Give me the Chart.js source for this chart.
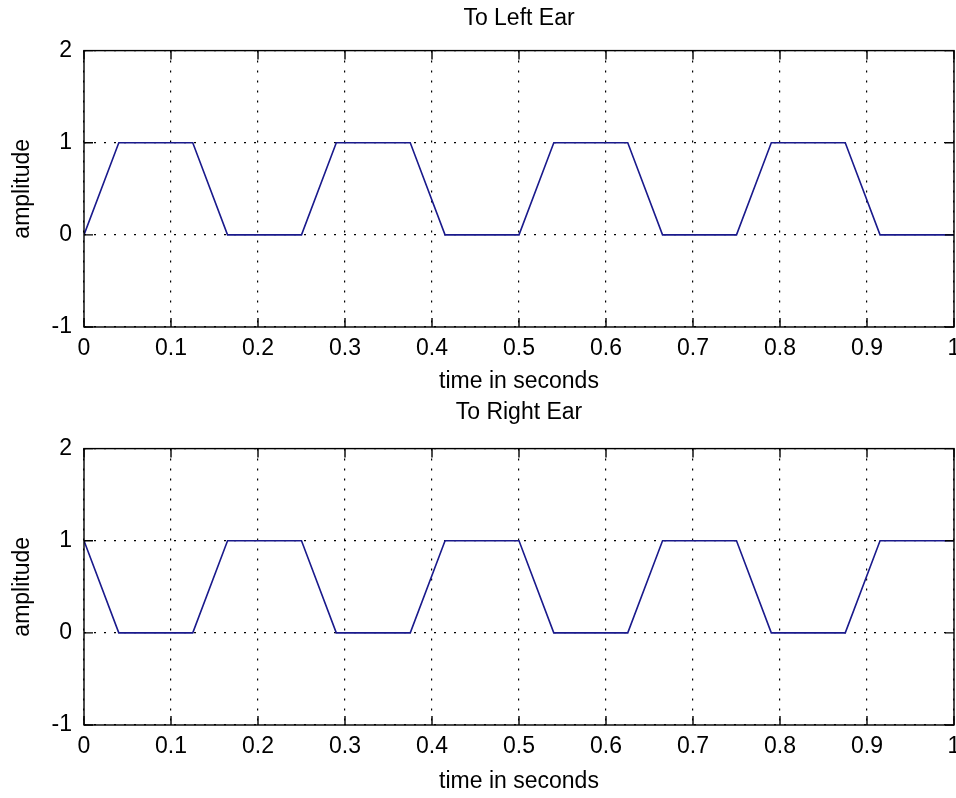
<!DOCTYPE html>
<html>
<head>
<meta charset="utf-8">
<script src="https://cdn.jsdelivr.net/npm/chart.js@4.4.1/dist/chart.umd.min.js"></script>
<style>
  html, body { margin: 0; padding: 0; background: #fff; }
  #wrap { position: relative; width: 956px; height: 798px; }
  canvas { position: absolute; left: 0; }
</style>
</head>
<body>
<div id="wrap">
  <canvas id="left" width="956" height="399" style="top:0"></canvas>
  <canvas id="right" width="956" height="399" style="top:399px"></canvas>
</div>
<script>
// time breakpoints of the trapezoid waves (seconds)
const times = [0, 0.04, 0.125, 0.165, 0.25, 0.29, 0.375, 0.415, 0.5, 0.54, 0.625, 0.665, 0.75, 0.79, 0.875, 0.915, 1];
const leftEar = [0, 1, 1, 0, 0, 1, 1, 0, 0, 1, 1, 0, 0, 1, 1, 0, 0];
const rightEar = [1, 0, 0, 1, 1, 0, 0, 1, 1, 0, 0, 1, 1, 0, 0, 1, 1];
const xTicks = [0, 0.1, 0.2, 0.3, 0.4, 0.5, 0.6, 0.7, 0.8, 0.9, 1];
const yTicks = [-1, 0, 1, 2];

Chart.defaults.font.family = "'Liberation Sans', Arial, sans-serif";
Chart.defaults.font.size = 23;
Chart.defaults.color = "#000";

// matlab style box with inward ticks
const boxPlugin = {
  id: "box",
  afterDraw(chart) {
    const { ctx, chartArea: a, scales } = chart;
    const len = 9;
    ctx.save();
    ctx.strokeStyle = "#000";
    ctx.lineWidth = 1.4;
    ctx.strokeRect(a.left, a.top, a.right - a.left, a.bottom - a.top);
    ctx.beginPath();
    xTicks.forEach((t) => {
      const x = scales.x.getPixelForValue(t);
      ctx.moveTo(x, a.bottom); ctx.lineTo(x, a.bottom - len);
      ctx.moveTo(x, a.top); ctx.lineTo(x, a.top + len);
    });
    yTicks.forEach((t) => {
      const y = scales.y.getPixelForValue(t);
      ctx.moveTo(a.left, y); ctx.lineTo(a.left + len, y);
      ctx.moveTo(a.right, y); ctx.lineTo(a.right - len, y);
    });
    ctx.stroke();
    ctx.restore();
  },
};

function makeChart(id, title, values, pad) {
  const points = times.map((t, i) => ({ x: t, y: values[i] }));
  return new Chart(document.getElementById(id), {
    type: "line",
    data: {
      datasets: [{
        data: points,
        borderColor: "#1a1a8c",
        borderWidth: 1.6,
        pointRadius: 0,
        tension: 0,
      }],
    },
    options: {
      responsive: false,
      animation: false,
      devicePixelRatio: 1,
      layout: { padding: { left: 0, right: 2, top: 0, bottom: 0 } },
      plugins: {
        legend: { display: false },
        tooltip: { enabled: false },
        title: {
          display: true,
          text: title,
          fullSize: false,
          font: { size: 23, weight: "normal" },
          padding: { top: pad.titleTop, bottom: pad.titleBottom },
        },
      },
      scales: {
        x: {
          type: "linear",
          min: 0,
          max: 1,
          afterBuildTicks: (s) => { s.ticks = xTicks.map((v) => ({ value: v })); },
          afterFit: (s) => { s.height = pad.xHeight; s.paddingLeft = 0; s.paddingRight = 0; },
          ticks: {
            padding: 8,
            maxRotation: 0,
            autoSkip: false,
            callback: (v) => String(Math.round(v * 10) / 10),
          },
          grid: { color: "#000", lineWidth: 1.2, drawTicks: false },
          border: { display: false, dash: [2, 8] },
          title: { display: true, text: "time in seconds", padding: { top: 0, bottom: pad.xTitleBottom } },
        },
        y: {
          min: -1,
          max: 2,
          afterBuildTicks: (s) => { s.ticks = yTicks.map((v) => ({ value: v })); },
          afterFit: (s) => { s.width = 84; s.paddingTop = 0; s.paddingBottom = 0; },
          ticks: { padding: 12 },
          grid: { color: "#000", lineWidth: 1.2, drawTicks: false },
          border: { display: false, dash: [2, 8] },
          title: { display: true, text: "amplitude", padding: { top: 9, bottom: 0 } },
        },
      },
    },
    plugins: [boxPlugin],
  });
}

makeChart("left", "To Left Ear", leftEar, { titleTop: 5, titleBottom: 18, xHeight: 72, xTitleBottom: 4 });
makeChart("right", "To Right Ear", rightEar, { titleTop: 0, titleBottom: 22, xHeight: 73, xTitleBottom: 3 });
</script>
</body>
</html>
